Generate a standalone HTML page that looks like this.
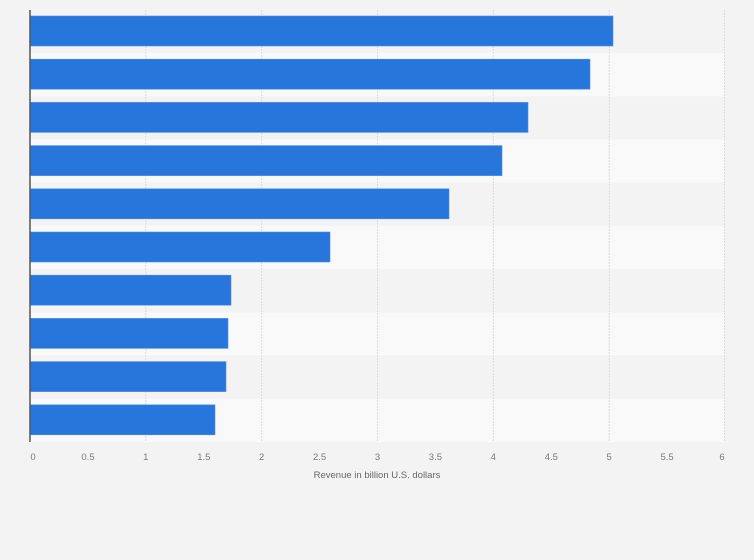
<!DOCTYPE html><html><head><style>body{margin:0;background:#f3f3f3}</style></head><body>
<svg width="754" height="560" xmlns="http://www.w3.org/2000/svg" style="display:block;font-family:'Liberation Sans',sans-serif">
<rect width="754" height="560" fill="#f3f3f3"/>
<rect x="30" y="10" width="695" height="43.2" fill="#f3f3f3"/>
<rect x="30" y="53.2" width="695" height="43.2" fill="#f9f9f9"/>
<rect x="30" y="96.4" width="695" height="43.2" fill="#f3f3f3"/>
<rect x="30" y="139.6" width="695" height="43.2" fill="#f9f9f9"/>
<rect x="30" y="182.8" width="695" height="43.2" fill="#f3f3f3"/>
<rect x="30" y="226" width="695" height="43.2" fill="#f9f9f9"/>
<rect x="30" y="269.2" width="695" height="43.2" fill="#f3f3f3"/>
<rect x="30" y="312.4" width="695" height="43.2" fill="#f9f9f9"/>
<rect x="30" y="355.6" width="695" height="43.2" fill="#f3f3f3"/>
<rect x="30" y="398.8" width="695" height="43.2" fill="#f9f9f9"/>
<g stroke="#dcdcdc" stroke-dasharray="2,1">
<line x1="145.8" y1="10" x2="145.8" y2="442"/>
<line x1="261.7" y1="10" x2="261.7" y2="442"/>
<line x1="377.5" y1="10" x2="377.5" y2="442"/>
<line x1="493.3" y1="10" x2="493.3" y2="442"/>
<line x1="609.2" y1="10" x2="609.2" y2="442"/>
<line x1="724.5" y1="10" x2="724.5" y2="442"/>
</g>
<g fill="#2776dc" stroke="#4a8fe6" stroke-width="0.6">
<rect x="30" y="16" width="583" height="30"/>
<rect x="30" y="59.2" width="560" height="30"/>
<rect x="30" y="102.4" width="498" height="30"/>
<rect x="30" y="145.6" width="472" height="30"/>
<rect x="30" y="188.8" width="419" height="30"/>
<rect x="30" y="232" width="300" height="30"/>
<rect x="30" y="275.2" width="201" height="30"/>
<rect x="30" y="318.4" width="198" height="30"/>
<rect x="30" y="361.6" width="196" height="30"/>
<rect x="30" y="404.8" width="185" height="30"/>
</g>
<line x1="30" y1="10" x2="30" y2="442" stroke="#555" stroke-width="1.5"/>
<g font-size="9.5" fill="#7a7a7a" text-anchor="middle">
<text x="33" y="460">0</text>
<text x="88" y="460">0.5</text>
<text x="145.8" y="460">1</text>
<text x="203.8" y="460">1.5</text>
<text x="261.7" y="460">2</text>
<text x="319.6" y="460">2.5</text>
<text x="377.5" y="460">3</text>
<text x="435.4" y="460">3.5</text>
<text x="493.3" y="460">4</text>
<text x="551.3" y="460">4.5</text>
<text x="609.2" y="460">5</text>
<text x="667.1" y="460">5.5</text>
<text x="722" y="460">6</text>
</g>
<text x="377" y="478" font-size="9.5" fill="#666" text-anchor="middle">Revenue in billion U.S. dollars</text>
</svg></body></html>
